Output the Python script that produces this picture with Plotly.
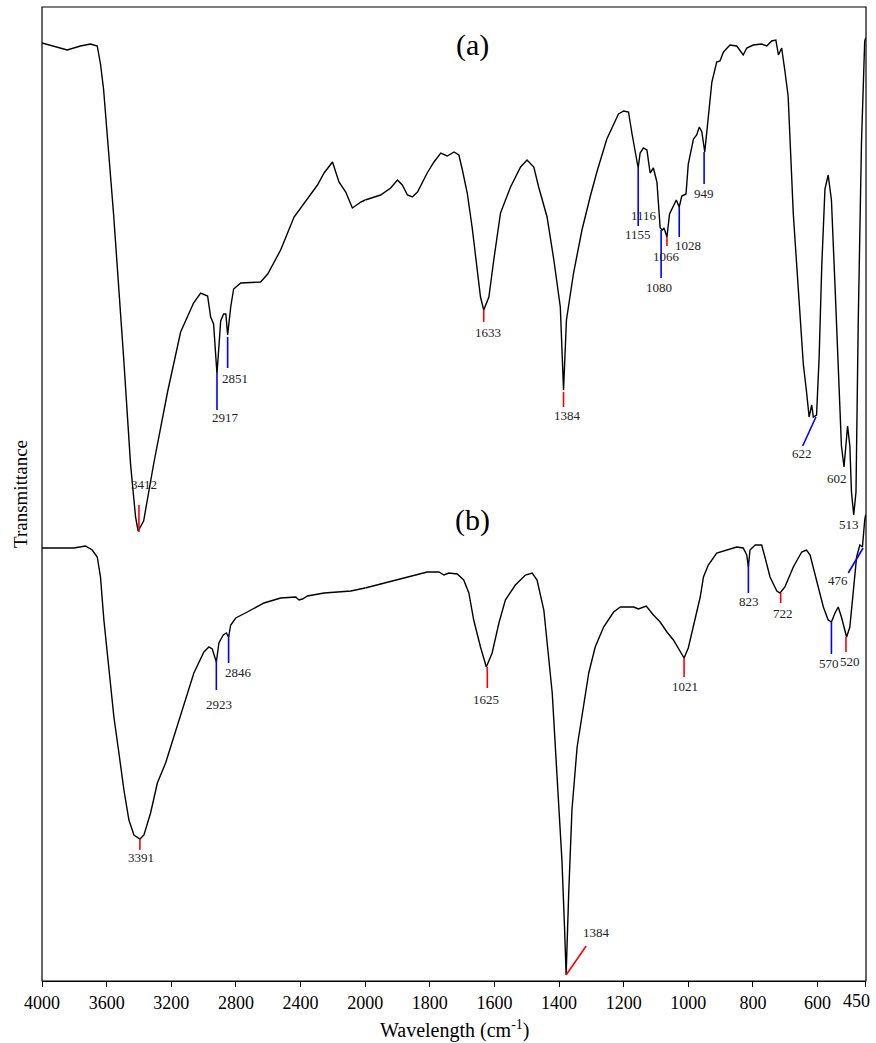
import plotly.graph_objects as go

# ---------------- data (wavenumber in cm-1, transmittance in arbitrary units) ----------------
wn_a = [4000, 3844, 3762, 3700, 3658, 3638, 3619, 3557, 3495, 3452, 3421, 3405, 3371, 3309, 3223,
        3142, 3062, 3018, 2975, 2956, 2938, 2917, 2894, 2876, 2862, 2851, 2832, 2814, 2770, 2647,
        2603, 2523, 2440, 2378, 2295, 2254, 2202, 2162, 2120, 2079, 2027, 2000,
        1983, 1952, 1921, 1900, 1885, 1869, 1854, 1838, 1808, 1787, 1766, 1746, 1725, 1710, 1699,
        1684, 1669, 1653, 1643, 1633, 1617, 1602, 1581, 1550, 1519, 1499, 1478, 1463, 1437, 1416,
        1396, 1386, 1377, 1355, 1329, 1303, 1282, 1252, 1231, 1216, 1200, 1185, 1174, 1164, 1155,
        1149, 1139, 1128, 1118, 1108, 1097, 1087, 1080, 1075, 1066, 1058, 1051, 1037, 1028, 1020,
        1007, 1000, 984, 974, 966, 958, 949, 938, 927, 912, 902, 891, 871, 850, 830, 819, 799, 773,
        757, 742, 729, 721, 711, 701, 691, 675, 654, 644, 634, 626, 618, 613, 603, 595, 587, 577,
        567, 557, 546, 533, 526, 518, 512, 507, 500, 495, 488, 481, 474, 464, 454, 451]
tr_a = [938, 931, 935, 937, 935, 917, 892, 767, 624, 517, 464, 450, 460, 517, 589,
        649, 678, 688, 685, 664, 657, 607, 660, 667, 667, 646, 674, 692, 698, 699,
        707, 731, 764, 778, 796, 808, 819, 799, 789, 773, 779, 781,
        783, 786, 793, 801, 796, 786, 784, 789, 808, 819, 828, 825, 829, 826, 811,
        788, 754, 711, 684, 671, 684, 721, 768, 794, 814, 821, 814, 794, 764, 721,
        674, 591, 661, 708, 751, 785, 810, 842, 857, 867, 870, 869, 847, 831, 813,
        828, 833, 831, 808, 813, 799, 753, 751, 753, 744, 767, 772, 781, 774, 785,
        787, 817, 842, 846, 854, 849, 829, 867, 899, 919, 920, 929, 936, 935, 926, 933, 936, 937,
        935, 940, 941, 926, 933, 910, 885, 767, 660, 617, 589, 564, 576, 564, 566, 624, 714, 792,
        806, 781, 696, 589, 535, 514, 535, 555, 535, 489, 466, 489, 660, 838, 940, 943]

wn_b = [4000, 3803, 3731, 3689, 3658, 3638, 3617, 3586, 3555, 3524, 3493, 3462, 3431, 3394, 3369,
        3328, 3286, 3235, 3184, 3122, 3060, 2998, 2967, 2946, 2932, 2921, 2905, 2878, 2859, 2845,
        2832, 2801, 2729, 2626, 2523, 2430, 2409, 2388, 2357, 2254, 2089, 2000,
        1900, 1808, 1772, 1756, 1741, 1715, 1695, 1679, 1664, 1643, 1625, 1607, 1586, 1566, 1535,
        1504, 1483, 1468, 1447, 1432, 1421, 1406, 1391, 1383, 1378, 1370, 1360, 1344, 1329, 1308,
        1288, 1262, 1231, 1210, 1169, 1154, 1130, 1108, 1087, 1066, 1046, 1025, 1013, 1000, 984,
        963, 953, 938, 912, 881, 850, 830, 819, 814, 809, 793, 773, 762, 747, 726, 716, 701, 675,
        649, 634, 623, 603, 582, 567, 557, 546, 536, 526, 510, 500, 490, 479, 469, 461, 454, 451]
tr_b = [433, 433, 435, 431, 424, 404, 361, 311, 264, 228, 191, 161, 146, 142, 146,
        168, 198, 218, 244, 278, 308, 329, 334, 332, 324, 319, 338, 346, 348, 344,
        356, 363, 369, 378, 383, 384, 381, 382, 385, 388, 390, 393,
        401, 409, 409, 406, 408, 407, 401, 388, 361, 334, 314, 328, 358, 381, 396,
        406, 408, 401, 371, 321, 288, 204, 121, 54, 6, 88, 171, 234, 264, 308,
        334, 354, 369, 374, 374, 372, 375, 366, 359, 349, 341, 329, 323, 333, 354,
        384, 404, 416, 428, 431, 434, 433, 426, 414, 431, 436, 436, 423, 404, 390, 388, 394, 414,
        429, 431, 426, 401, 374, 361, 359, 368, 374, 364, 344, 354, 391, 424, 436, 434, 461, 466]

ticks_left = [4000, 3600, 3200, 2800, 2400, 2000]
ticks_right = [1800, 1600, 1400, 1200, 1000, 800, 600, 450]

# peak labels: text, marker colour, marker segment (w0, t0, w1, t1), label anchor (w, t)
peaks = [
    ("3412", "red", (3400, 476, 3400, 449), (3371, 497)),
    ("2917", "blue", (2917, 607, 2917, 571), (2867, 564)),
    ("2851", "blue", (2851, 644, 2851, 613), (2808, 603)),
    ("1633", "red", (1633, 671, 1633, 659), (1620, 649)),
    ("1384", "red", (1386, 589, 1386, 574), (1373, 566)),
    ("1155", "blue", (1155, 813, 1155, 755), (1157, 747)),
    ("1116", None, None, (1136, 766)),
    ("1080", "blue", (1084, 751, 1084, 703), (1091, 694)),
    ("1066", "red", (1066, 744, 1066, 735), (1066, 725)),
    ("1028", "blue", (1028, 774, 1028, 744), (1000, 736)),
    ("949", "blue", (951, 829, 951, 797), (951, 788)),
    ("622", "blue", (605, 564, 646, 535), (649, 528)),
    ("602", None, None, (541, 503)),
    ("513", None, None, (502, 457)),
    ("3391", "red", (3394, 142, 3394, 131), (3390, 124)),
    ("2923", "blue", (2921, 321, 2921, 291), (2905, 277)),
    ("2846", "blue", (2845, 346, 2845, 318), (2781, 309)),
    ("1625", "red", (1622, 314, 1622, 293), (1625, 282)),
    ("1384", "red", (1378, 6, 1316, 35), (1285, 49)),
    ("1021", "red", (1013, 323, 1013, 304), (1010, 295)),
    ("823", "blue", (814, 418, 814, 388), (812, 380)),
    ("722", "red", (714, 388, 714, 378), (708, 368)),
    ("570", "blue", (557, 359, 557, 327), (564, 318)),
    ("520", "red", (512, 344, 512, 329), (498, 320)),
    ("476", "blue", (459, 433, 505, 408), (536, 401)),
]

panel_labels = [("(a)", 1668, 936), ("(b)", 1668, 461)]

# ---------------- figure ----------------
SERIF = "Liberation Serif, Times New Roman, serif"
split = 1000 / 2550  # fraction of width used by 4000-2000 (compressed half-scale region)


def xr(w):
    return "x" if w >= 2000 else "x2"


fig = go.Figure()
for wn, tr in ((wn_a, tr_a), (wn_b, tr_b)):
    lw = [(w, t) for w, t in zip(wn, tr) if w >= 2000]
    rw = [(w, t) for w, t in zip(wn, tr) if w <= 2000]
    fig.add_trace(go.Scatter(x=[p[0] for p in lw], y=[p[1] for p in lw], mode="lines",
                             line=dict(color="black", width=1.4), xaxis="x", yaxis="y",
                             hoverinfo="skip"))
    fig.add_trace(go.Scatter(x=[p[0] for p in rw], y=[p[1] for p in rw], mode="lines",
                             line=dict(color="black", width=1.4), xaxis="x2", yaxis="y",
                             hoverinfo="skip"))

colors = {"red": "#ff0000", "blue": "#0000ff"}
for text, col, seg, pos in peaks:
    if seg is not None:
        fig.add_shape(type="line", xref=xr(seg[0]), yref="y", x0=seg[0], y0=seg[1],
                      x1=seg[2], y1=seg[3], line=dict(color=colors[col], width=1.6))
    fig.add_annotation(text=text, xref=xr(pos[0]), yref="y", x=pos[0], y=pos[1],
                       showarrow=False, font=dict(family=SERIF, size=13, color="#222"),
                       xanchor="center", yanchor="middle")

for text, w, t in panel_labels:
    fig.add_annotation(text=text, xref=xr(w), yref="y", x=w, y=t, showarrow=False,
                       font=dict(family=SERIF, size=30, color="black"),
                       xanchor="center", yanchor="middle")

# last tick label sits flush with the right edge of the figure
last_tick = ticks_right[-1]
fig.add_annotation(text=str(last_tick), xref="x2", yref="paper", x=last_tick, y=0,
                   xanchor="right", yanchor="middle", xshift=6, yshift=-20,
                   showarrow=False, font=dict(family=SERIF, size=18, color="black"))

fig.add_annotation(text="Wavelength (cm<sup>-1</sup>)", xref="paper", yref="paper",
                   x=0.5, y=0, yanchor="top", yshift=-34, showarrow=False,
                   font=dict(family=SERIF, size=20, color="black"))
fig.add_annotation(text="Transmittance", xref="paper", yref="paper", x=0, y=0.5,
                   xanchor="center", yanchor="middle", xshift=-22, textangle=-90,
                   showarrow=False, font=dict(family=SERIF, size=19, color="black"))

fig.add_shape(type="rect", xref="paper", yref="paper", x0=0, y0=0, x1=1, y1=1,
              line=dict(color="black", width=1.2))

axis_common = dict(showgrid=False, zeroline=False, showline=True, linecolor="black",
                   linewidth=1.2, ticks="outside", ticklen=5, tickcolor="black",
                   tickwidth=1.2, tickfont=dict(family=SERIF, size=18, color="black"),
                   anchor="y", automargin=False)
fig.update_layout(
    width=876, height=1043,
    margin=dict(l=42, r=10, t=7, b=62, autoexpand=False),
    plot_bgcolor="white", paper_bgcolor="white",
    showlegend=False,
    font=dict(family=SERIF, color="black"),
    xaxis=dict(domain=[0, split], range=[4000, 2000], tickmode="array",
               tickvals=ticks_left, ticktext=[str(v) for v in ticks_left], **axis_common),
    xaxis2=dict(domain=[split, 1], range=[2000, 450], tickmode="array",
                tickvals=ticks_right,
                ticktext=[str(v) if v != last_tick else " " for v in ticks_right],
                **axis_common),
    yaxis=dict(range=[0, 974], showticklabels=False, showgrid=False, zeroline=False,
               showline=False, ticks="", automargin=False),
)

fig.write_html(
    "out.html",
    config={"displayModeBar": False},
    post_script="document.body.style.margin='0';document.body.style.overflow='hidden';",
)
